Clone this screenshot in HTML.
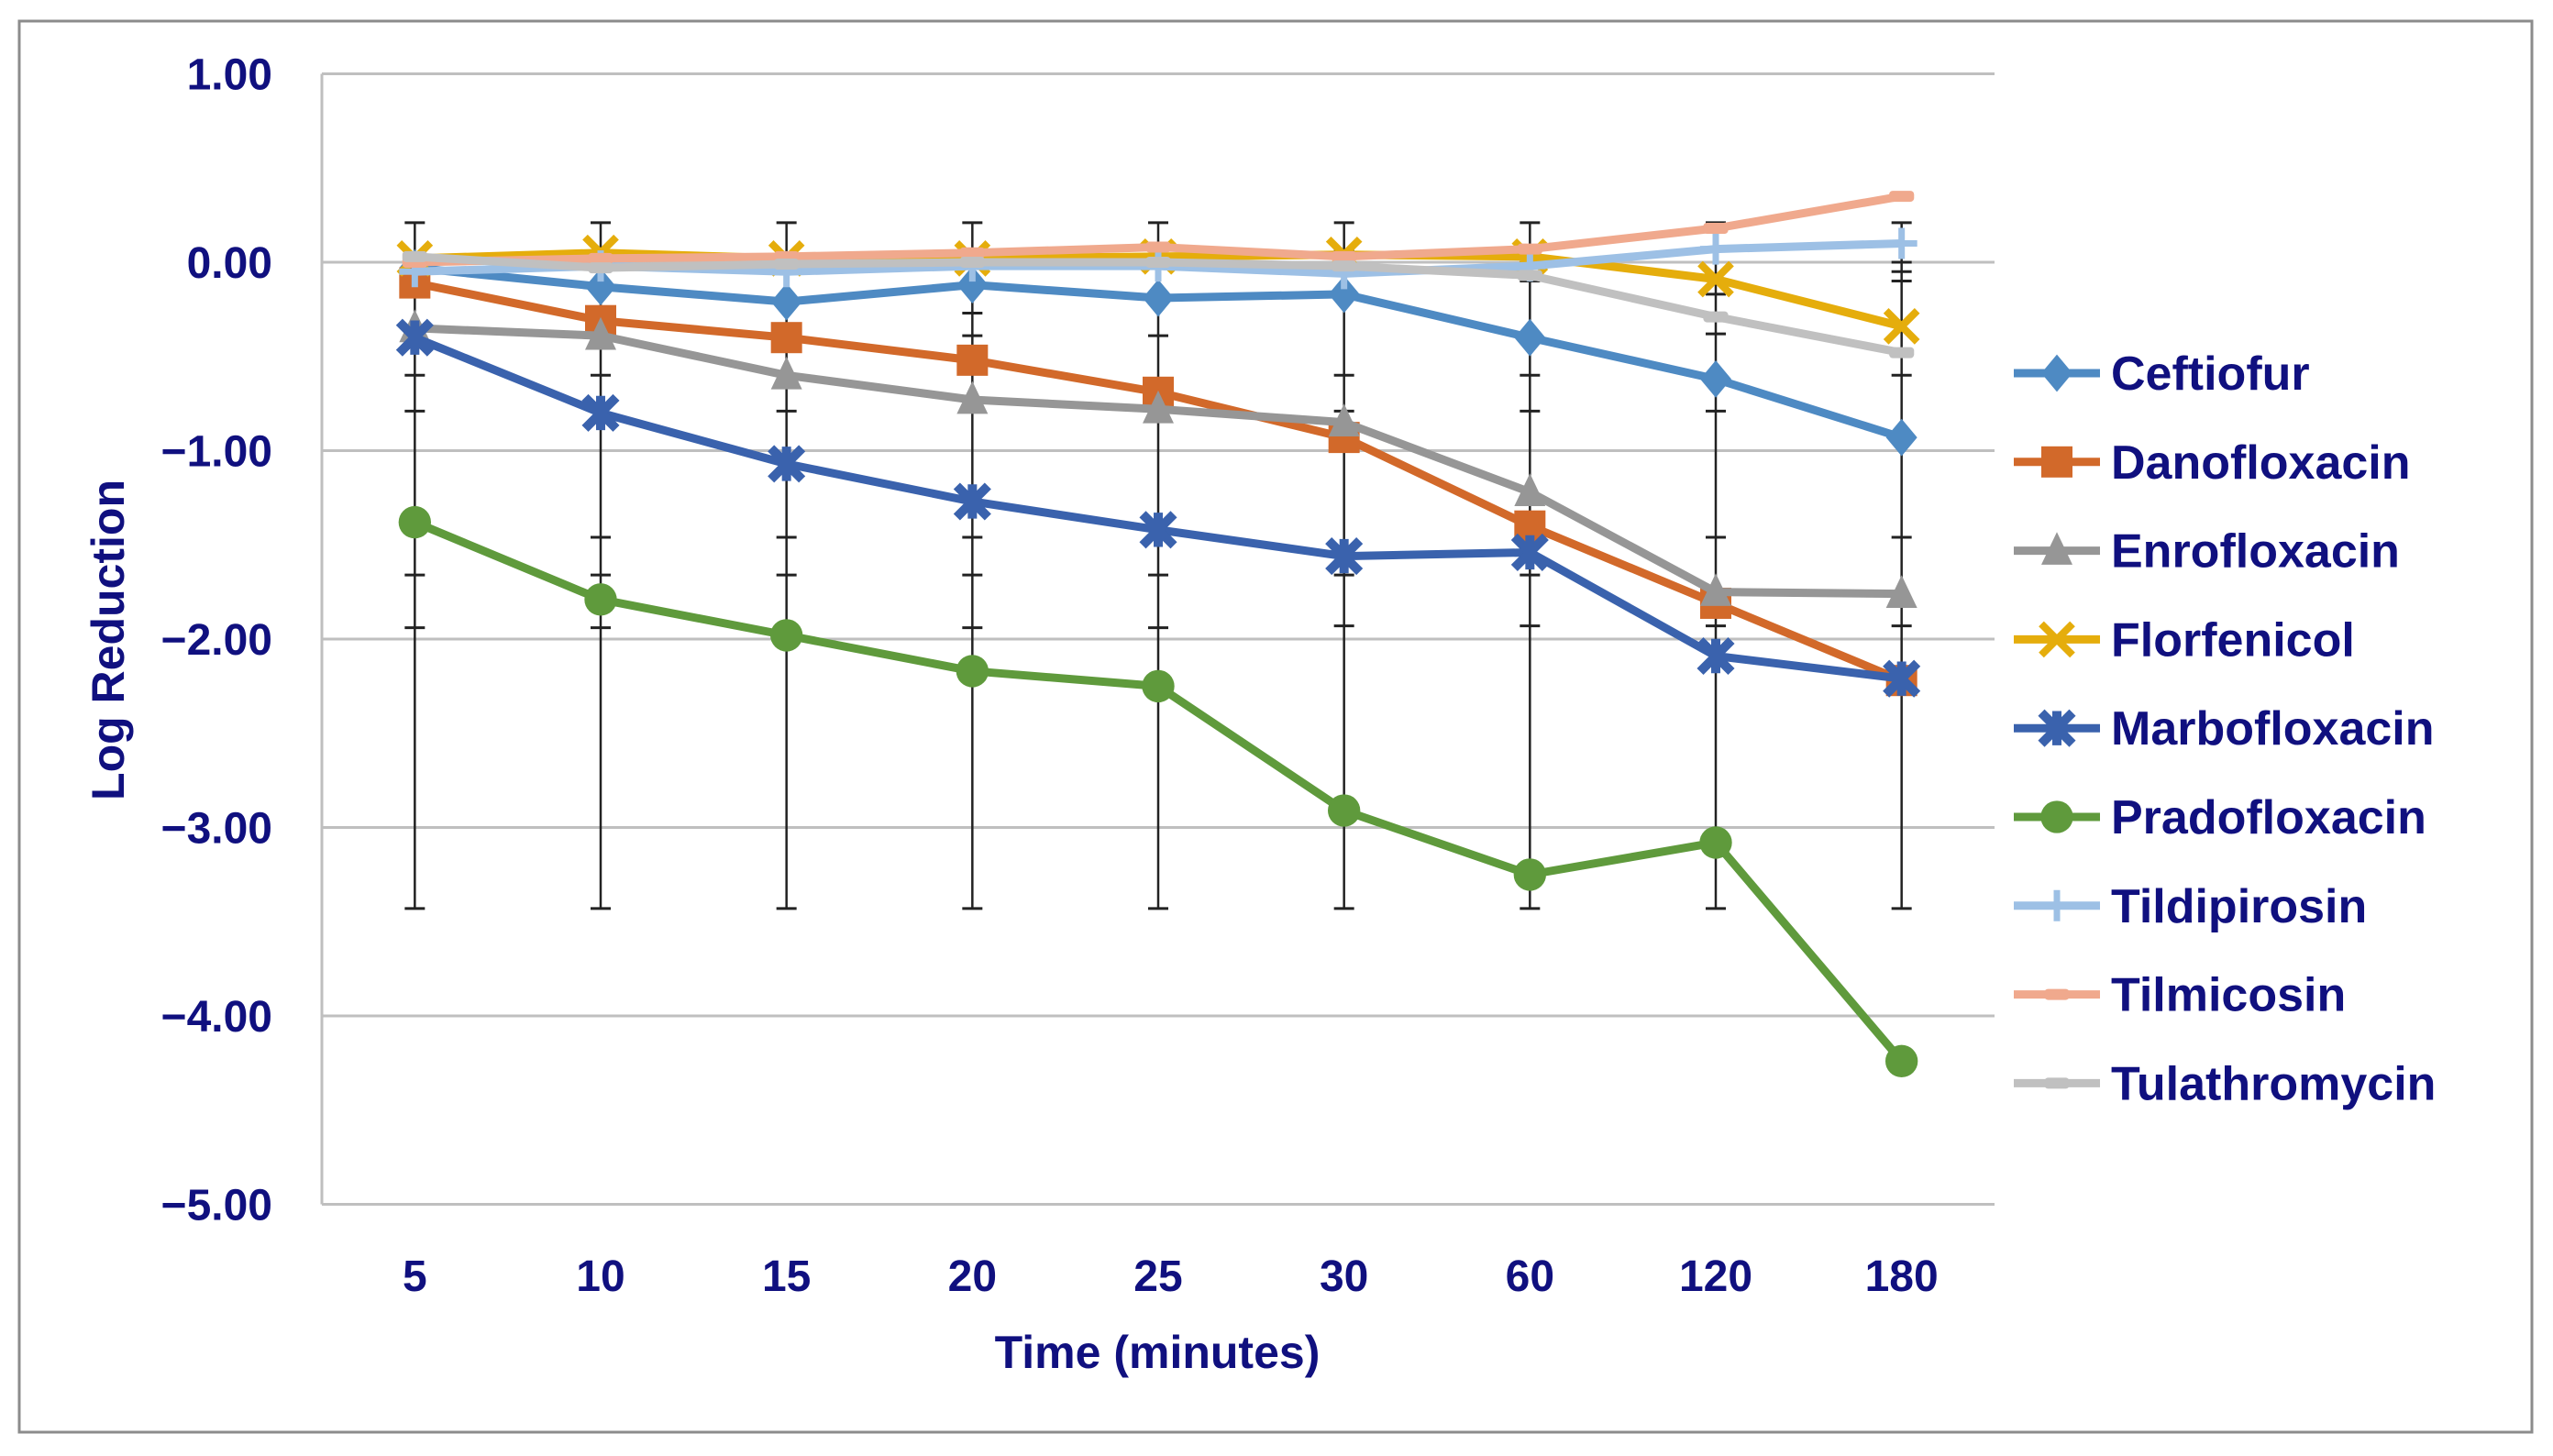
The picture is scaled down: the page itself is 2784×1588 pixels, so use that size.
<!DOCTYPE html>
<html><head><meta charset="utf-8"><style>
body{margin:0;background:#fff;}
svg{display:block;}
text{font-family:"Liberation Sans",sans-serif;font-weight:bold;fill:#10107f;}
</style></head><body>
<svg id="chart" width="2784" height="1588" viewBox="0 0 2784 1588" xmlns="http://www.w3.org/2000/svg">
<rect x="21" y="23" width="2740" height="1539" fill="#fff" stroke="#8c8c8c" stroke-width="3"/>
<g id="grid"></g><g id="errs"></g><g id="series"></g><g id="axes"></g><g id="legend"></g>
<text transform="translate(135,698) rotate(-90)" text-anchor="middle" font-size="50">Log Reduction</text>
<text x="1262" y="1492" text-anchor="middle" font-size="50">Time (minutes)</text>
</svg>
<script>
const categories=["5","10","15","20","25","30","60","120","180"];
const yTicks=[1,0,-1,-2,-3,-4,-5];
const yTickLabels=["1.00","0.00","\u22121.00","\u22122.00","\u22123.00","\u22124.00","\u22125.00"];
const seriesNames=["Ceftiofur","Danofloxacin","Enrofloxacin","Florfenicol","Marbofloxacin","Pradofloxacin","Tildipirosin","Tilmicosin","Tulathromycin"];
const ceftiofur=[-0.03,-0.13,-0.21,-0.12,-0.19,-0.17,-0.40,-0.62,-0.93];
const danofloxacin=[-0.11,-0.31,-0.40,-0.52,-0.69,-0.93,-1.40,-1.81,-2.22];
const enrofloxacin=[-0.35,-0.39,-0.60,-0.73,-0.78,-0.85,-1.22,-1.75,-1.76];
const florfenicol=[0.02,0.05,0.02,0.02,0.03,0.04,0.03,-0.09,-0.34];
const marbofloxacin=[-0.40,-0.80,-1.07,-1.27,-1.42,-1.56,-1.54,-2.09,-2.21];
const pradofloxacin=[-1.38,-1.79,-1.98,-2.17,-2.25,-2.91,-3.25,-3.08,-4.24];
const tildipirosin=[-0.05,-0.02,-0.05,-0.02,-0.02,-0.06,-0.02,0.07,0.10];
const tilmicosin=[0.0,0.02,0.03,0.05,0.08,0.03,0.07,0.18,0.35];
const tulathromycin=[0.03,-0.03,-0.01,0.0,0.0,-0.02,-0.07,-0.29,-0.48];
const errHigh=[0.21,0.21,0.21,0.21,0.21,0.21,0.21,0.21,0.21];
const errLow=[-3.43,-3.43,-3.43,-3.43,-3.43,-3.43,-3.43,-3.43,-3.43];
const errCaps=[[-0.6,-0.79,-1.66,-1.94],[-0.6,-1.46,-1.66,-1.94],[-0.79,-1.46,-1.66],[-0.27,-0.39,-0.79,-1.46,-1.66,-1.94],[-0.39,-1.46,-1.66,-1.94],[0.06,-0.6,-0.79,-1.66,-1.93],[0.0,-0.05,-0.1,-0.6,-0.79,-1.66,-1.93],[-0.17,-0.38,-0.79,-1.46,-1.93],[0.0,-0.05,-0.1,-0.6,-1.46,-1.93]];
const seriesData=[ceftiofur,danofloxacin,enrofloxacin,florfenicol,marbofloxacin,pradofloxacin,tildipirosin,tilmicosin,tulathromycin];
const colors=["#4e8ac3","#d2692a","#969696","#e5ad0c","#3a62ad","#5f9a3c","#9dc0e5","#f0a98d","#c0c0c0"];
const markers=["diamond","square","triangle","x","star","circle","plus","dash","dash"];
const NS="http://www.w3.org/2000/svg";
const L=351,R=2175,Y0=286,U=205.5;
const xPos=i=>L+(R-L)/categories.length*(i+0.5);
const yPos=v=>Y0-v*U;
function mk(tag,attrs,parent){const e=document.createElementNS(NS,tag);for(const k in attrs)e.setAttribute(k,attrs[k]);parent.appendChild(e);return e;}
const grid=document.getElementById('grid'),axes=document.getElementById('axes');
yTicks.forEach((t,i)=>{
  const g=mk('line',{x1:L,x2:R,y1:yPos(t),y2:yPos(t),stroke:'#bfbfbf','stroke-width':3},grid);
  
  
  const tx=mk('text',{x:297,y:yPos(t)+17,'text-anchor':'end','font-size':48},axes);
  tx.textContent=yTickLabels[i];
  
  
});
const ax=mk('line',{x1:L,x2:L,y1:yPos(1),y2:yPos(-5),stroke:'#bfbfbf','stroke-width':3},grid);


categories.forEach((c,i)=>{
  const tx=mk('text',{x:xPos(i),y:1408,'text-anchor':'middle','font-size':48},axes);
  tx.textContent=c;
  
  
});
const errs=document.getElementById('errs');
categories.forEach((c,i)=>{
  const x=xPos(i);
  const l=mk('line',{x1:x,x2:x,y1:yPos(errHigh[i]),y2:yPos(errLow[i]),stroke:'#222','stroke-width':2.5},errs);
  
  
  [errHigh[i],errLow[i]].concat(errCaps[i]).forEach(v=>{
    const cp=mk('line',{x1:x-11,x2:x+11,y1:yPos(v),y2:yPos(v),stroke:'#222','stroke-width':3},errs);
    
    
  });
});
function marker(type,x,y,col,parent,s){
  let e;
  if(type==='diamond')e=mk('polygon',{points:`${x},${y-s*0.6} ${x+s*0.5},${y} ${x},${y+s*0.6} ${x-s*0.5},${y}`,fill:col},parent);
  else if(type==='square')e=mk('rect',{x:x-s/2,y:y-s/2,width:s,height:s,fill:col},parent);
  else if(type==='triangle')e=mk('polygon',{points:`${x},${y-s*0.6} ${x+s*0.5},${y+s*0.45} ${x-s*0.5},${y+s*0.45}`,fill:col},parent);
  else if(type==='circle')e=mk('circle',{cx:x,cy:y,r:s*0.52,fill:col},parent);
  else if(type==='x')e=mk('path',{d:`M${x-s/2},${y-s/2}L${x+s/2},${y+s/2}M${x+s/2},${y-s/2}L${x-s/2},${y+s/2}`,stroke:col,'stroke-width':8,fill:'none'},parent);
  else if(type==='star')e=mk('path',{d:`M${x-s/2},${y-s/2}L${x+s/2},${y+s/2}M${x+s/2},${y-s/2}L${x-s/2},${y+s/2}M${x},${y-s*0.55}L${x},${y+s*0.55}`,stroke:col,'stroke-width':10,fill:'none'},parent);
  else if(type==='plus')e=mk('path',{d:`M${x-s/2},${y}L${x+s/2},${y}M${x},${y-s/2}L${x},${y+s/2}`,stroke:col,'stroke-width':7,fill:'none'},parent);
  else e=mk('rect',{x:x-s*0.4,y:y-6,width:s*0.8,height:12,rx:4,fill:col},parent);
  return e;
}
const sg=document.getElementById('series');
seriesData.forEach((d,si)=>{
  const g=mk('g',{},sg);
  
  
  const pl=mk('polyline',{points:d.map((v,i)=>xPos(i)+','+yPos(v)).join(' '),fill:'none',stroke:colors[si],'stroke-width':9,'stroke-linejoin':'round'},g);
  
  
  d.forEach((v,i)=>{
    const m=marker(markers[si],xPos(i),yPos(v),colors[si],g,34);
    
    
  });
});
const lg=document.getElementById('legend');
seriesNames.forEach((n,i)=>{
  const y=407+96.8*i;
  const g=mk('g',{},lg);
  
  
  mk('line',{x1:2196,x2:2290,y1:y,y2:y,stroke:colors[i],'stroke-width':9},g);
  marker(markers[i],2243,y,colors[i],g,34);
  const t=mk('text',{x:2302,y:y+18,'font-size':52},g);
  t.textContent=n;
  
  
});
</script>
</body></html>
